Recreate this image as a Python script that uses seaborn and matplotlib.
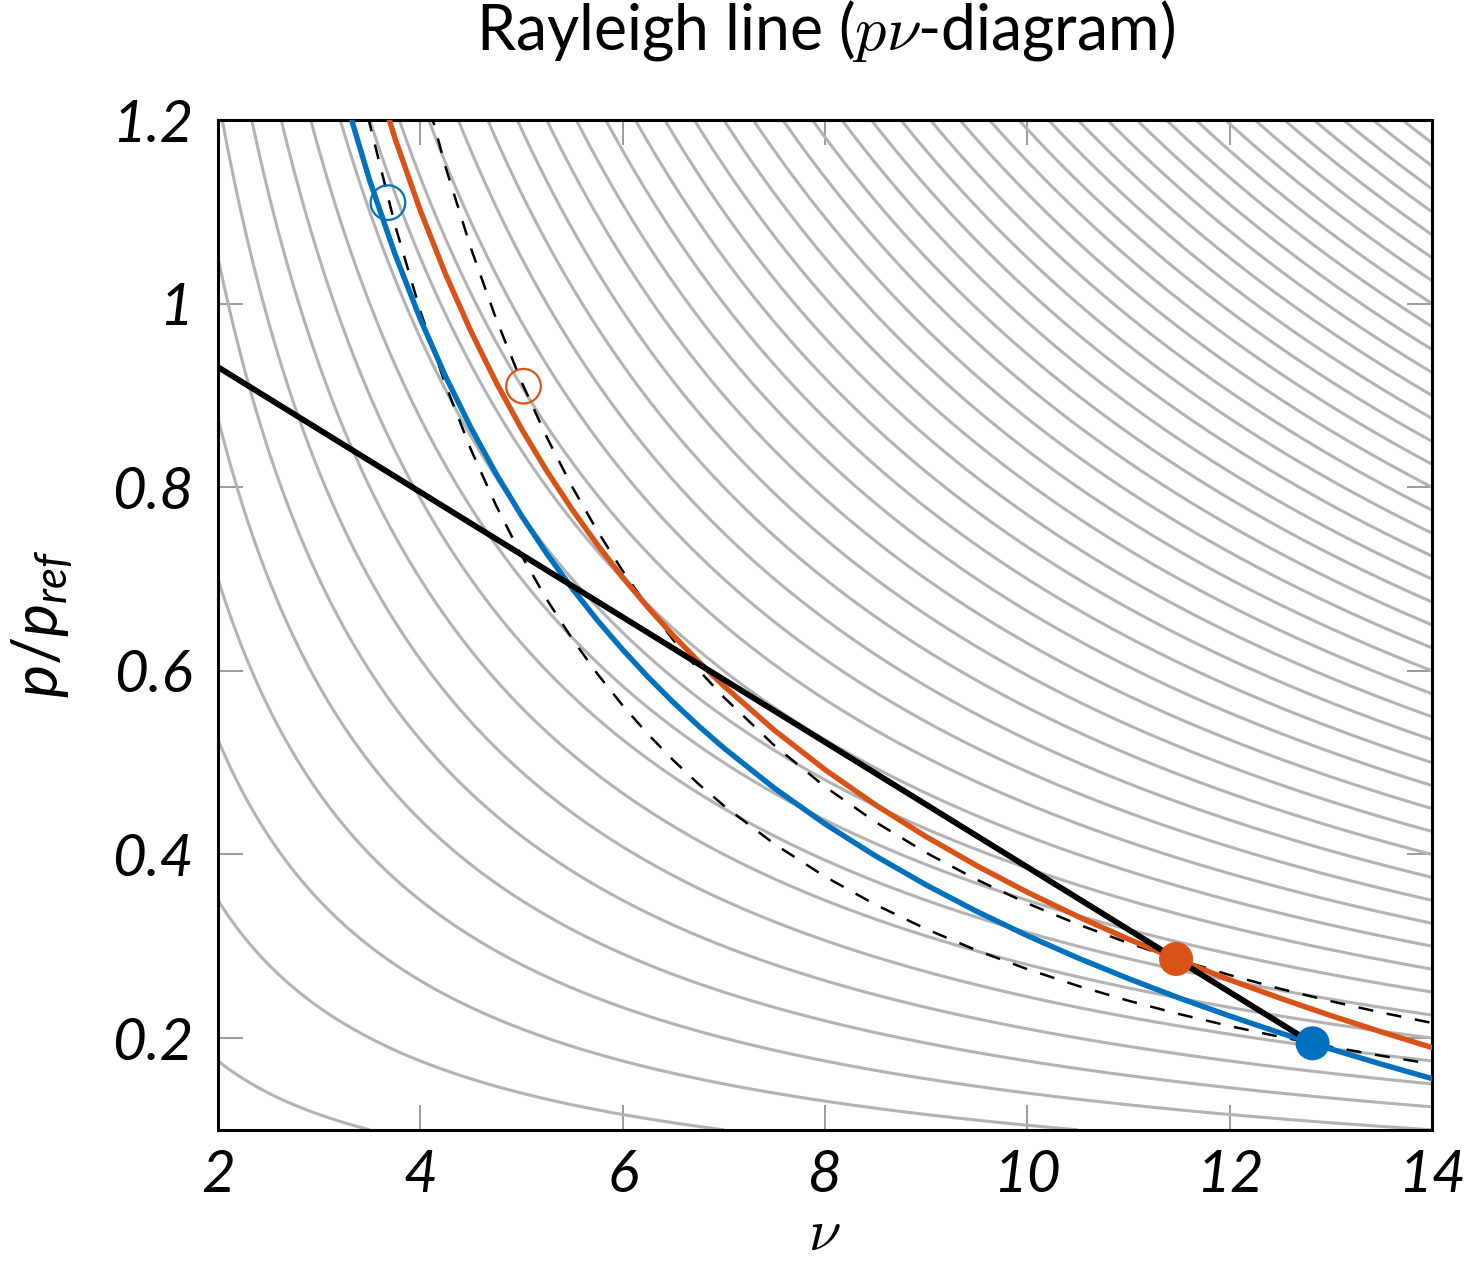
import numpy as np
import matplotlib
matplotlib.use("Agg")
import matplotlib.pyplot as plt
import seaborn as sns

# specific volume grid and pressures
vol = [3.25, 3.5, 3.75, 4.0, 4.25, 4.5, 4.75, 5.0, 5.25, 5.5, 5.75, 6.0, 6.25, 6.5, 6.75, 7.0,
       7.5, 8.0, 8.5, 9.0, 9.5, 10.0, 10.5, 11.0, 11.5, 12.0, 12.5, 13.0, 13.5, 14.0]
p_blue = [1.2262, 1.1339, 1.0537, 0.9831, 0.9205, 0.8647, 0.8144, 0.7690, 0.7276, 0.6898,
          0.6550, 0.6230, 0.5933, 0.5657, 0.5400, 0.5159, 0.4721, 0.4332, 0.3983, 0.3667,
          0.3379, 0.3115, 0.2872, 0.2647, 0.2436, 0.2240, 0.2055, 0.1880, 0.1715, 0.1558]
p_orange = [1.3718, 1.2691, 1.1798, 1.1013, 1.0318, 0.9698, 0.9140, 0.8636, 0.8177, 0.7758,
            0.7373, 0.7018, 0.6690, 0.6385, 0.6101, 0.5835, 0.5352, 0.4923, 0.4539, 0.4193,
            0.3877, 0.3588, 0.3323, 0.3077, 0.2848, 0.2634, 0.2433, 0.2244, 0.2066, 0.1896]
p_dash_blue = [1.3263, 1.1956, 1.0855, 0.9918, 0.9111, 0.8410, 0.7797, 0.7257, 0.6777, 0.6350,
               0.5967, 0.5622, 0.5310, 0.5026, 0.4767, 0.4531, 0.4113, 0.3758, 0.3452, 0.3187,
               0.2954, 0.2750, 0.2568, 0.2406, 0.2261, 0.2130, 0.2012, 0.1904, 0.1806, 0.1717]
p_dash_orange = [1.6721, 1.5073, 1.3686, 1.2503, 1.1486, 1.0603, 0.9830, 0.9148, 0.8544, 0.8006,
                 0.7523, 0.7088, 0.6694, 0.6336, 0.6010, 0.5712, 0.5186, 0.4738, 0.4352, 0.4018,
                 0.3725, 0.3467, 0.3238, 0.3034, 0.2851, 0.2686, 0.2536, 0.2401, 0.2277, 0.2164]

# Rayleigh line
ray_v = [2.0, 12.82]
ray_p = [0.9308, 0.1942]

# static (filled) and stagnation (open) states: blue, orange
static_v = [12.82, 11.47]
static_p = [0.1942, 0.2861]
stag_v = [3.68, 5.02]
stag_p = [1.11, 0.91]

# isotherm levels p*v
iso_levels = [0.35, 0.70, 1.05, 1.40, 1.75, 2.10, 2.45, 2.80, 3.15, 3.50, 3.85, 4.20,
              4.55, 4.90, 5.25, 5.60, 5.95, 6.30, 6.65, 7.00, 7.35, 7.70, 8.05, 8.40,
              8.75, 9.10, 9.45, 9.80, 10.15, 10.50, 10.85, 11.20, 11.55, 11.90, 12.25, 12.60,
              12.95, 13.30, 13.65, 14.00, 14.35, 14.70, 15.05, 15.40, 15.75, 16.10, 16.45]

xticks = [2, 4, 6, 8, 10, 12, 14]
yticks = [0.2, 0.4, 0.6, 0.8, 1.0, 1.2]
ytick_labels = ["0.2", "0.4", "0.6", "0.8", "1", "1.2"]

BLUE = "#0072BD"
ORANGE = "#D95319"

sns.set_style("ticks")
plt.rcParams["font.family"] = ["Lato", "DejaVu Sans"]
plt.rcParams["mathtext.fontset"] = "custom"
plt.rcParams["mathtext.it"] = "Lato:italic"
plt.rcParams["mathtext.rm"] = "Lato"
plt.rcParams["text.color"] = "black"
plt.rcParams["xtick.labelcolor"] = "black"
plt.rcParams["ytick.labelcolor"] = "black"

fig = plt.figure(figsize=(14.65, 12.62), dpi=100)
ax = fig.add_axes([218 / 1465, 1 - 1129.8 / 1262, 1214 / 1465, 1009.8 / 1262])

# gray isotherms
V, P = np.meshgrid(np.linspace(2, 14, 700), np.linspace(0.1, 1.2, 700))
ax.contour(V, P, V * P, levels=iso_levels, colors="#b3b3b3", linewidths=2.2, zorder=1)

# isentropes (dashed)
ax.plot(vol, p_dash_blue, color="black", lw=1.8, ls=(0, (6, 5.5)), zorder=2)
ax.plot(vol, p_dash_orange, color="black", lw=1.8, ls=(0, (6, 5.5)), zorder=2)

# Fanno lines
sns.lineplot(x=vol, y=p_blue, color=BLUE, lw=3.9, sort=False, estimator=None, ax=ax, zorder=3)
sns.lineplot(x=vol, y=p_orange, color=ORANGE, lw=3.9, sort=False, estimator=None, ax=ax, zorder=3)

# Rayleigh line
sns.lineplot(x=ray_v, y=ray_p, color="black", lw=4.2, sort=False, estimator=None, ax=ax, zorder=4)

# states
ax.scatter(static_v, static_p, s=600, c=[BLUE, ORANGE], linewidths=0, zorder=5)
ax.scatter(stag_v, stag_p, s=620, facecolors="none", edgecolors=[BLUE, ORANGE], linewidths=1.6, zorder=5)

ax.set_xlim(2, 14)
ax.set_ylim(0.1, 1.2)
ax.set_xticks(xticks)
ax.set_yticks(yticks)
ax.set_yticklabels(ytick_labels)
ax.set_xlabel("")
ax.set_ylabel("")
ax.tick_params(direction="in", length=18, width=1.1, color="#808080", top=True, right=True,
               labelsize=42, labelcolor="black")
ax.tick_params(axis="x", pad=14)
ax.tick_params(axis="y", pad=18)
for lbl in ax.get_xticklabels() + ax.get_yticklabels():
    lbl.set_fontstyle("italic")
for s in ax.spines.values():
    s.set_color("black")
    s.set_linewidth(2.2)

fig.text(826 / 1465, 1 - 50 / 1262, r"Rayleigh line ($p\nu$-diagram)", ha="center", va="baseline",
         size=45, color="black", math_fontfamily="cm")
fig.text(42 / 1465, 1 - 624 / 1262, r"$p/p_{ref}$", rotation=90, ha="center", va="center",
         size=45, color="black")
fig.text(824 / 1465, 1 - 1250 / 1262, r"$\nu$", ha="center", va="baseline", size=42,
         color="black", math_fontfamily="cm")

fig.savefig("out.png", dpi=100)
